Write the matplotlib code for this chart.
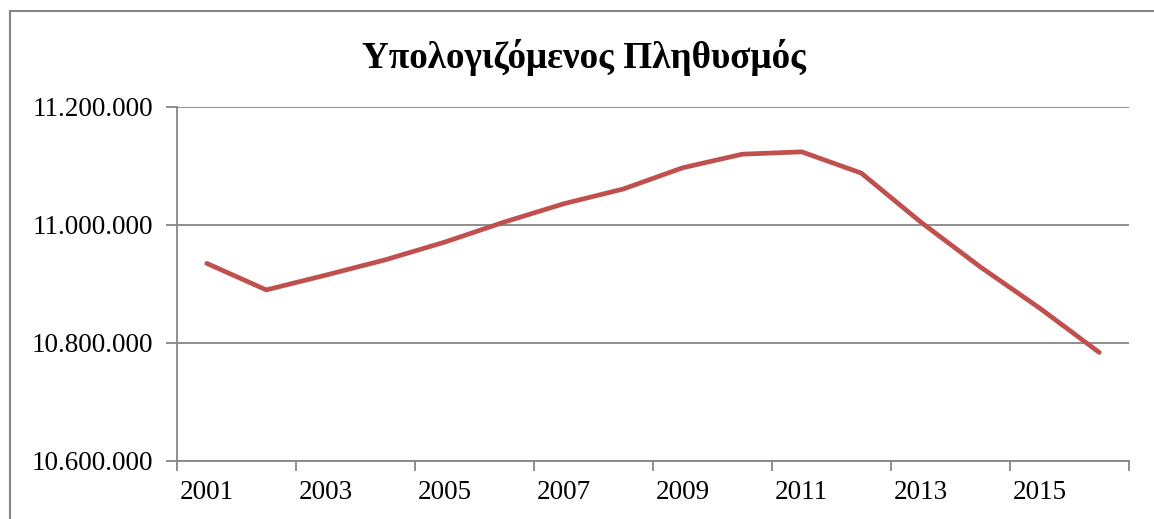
import matplotlib
matplotlib.use("Agg")
import matplotlib.pyplot as plt
from matplotlib.lines import Line2D
from matplotlib.ticker import FuncFormatter, FixedLocator, NullFormatter

years = list(range(2001, 2017))
population = [10935000, 10890000, 10915000, 10941000, 10971000, 11005000,
              11036000, 11061000, 11097000, 11120000, 11124000, 11088000,
              11005000, 10929000, 10859000, 10784000]
title = "Υπολογιζόμενος Πληθυσμός"
y_ticks = [10600000, 10800000, 11000000, 11200000]

W, H = 1154, 519
fig = plt.figure(figsize=(W / 100, H / 100), dpi=100)
fig.patch.set_facecolor("white")
ax = fig.add_axes([177 / W, 1 - 461 / H, (1129 - 177) / W, (461 - 107) / H])

plt.rcParams['font.family'] = ['Liberation Serif', 'DejaVu Serif']
grey = "#868686"

x = list(range(len(years)))
ax.plot(x, population, color="#C0504D", lw=3.4, solid_capstyle="round",
        solid_joinstyle="round", zorder=3)

ax.set_xlim(-0.5, len(years) - 0.5)
ax.set_ylim(y_ticks[0], y_ticks[-1])
ax.yaxis.set_major_locator(FixedLocator(y_ticks))
ax.yaxis.set_major_formatter(FuncFormatter(lambda v, p: f"{int(v):,}".replace(",", ".")))
ax.grid(axis="y", color=grey, lw=1.3, zorder=1)

# tick marks between category pairs, labels at every other category
ax.xaxis.set_major_locator(FixedLocator([i - 0.5 for i in range(0, len(years) + 1, 2)]))
ax.xaxis.set_major_formatter(NullFormatter())
ax.xaxis.set_minor_locator(FixedLocator(list(range(0, len(years), 2))))
ax.set_xticklabels([str(years[i]) for i in range(0, len(years), 2)], minor=True)
ax.tick_params(axis="x", which="minor", length=0, pad=14, labelsize=19.5,
               labelfontfamily="Liberation Serif")
ax.tick_params(axis="x", which="major", length=7, width=1.3, color=grey)
ax.tick_params(axis="y", which="major", length=8, width=1.3, color=grey, pad=9,
               labelsize=19.5, labelfontfamily="Liberation Serif")

for s in ["top", "right"]:
    ax.spines[s].set_visible(False)
for s in ["left", "bottom"]:
    ax.spines[s].set_color(grey)
    ax.spines[s].set_linewidth(1.3)

fig.text(584 / W, 1 - 58 / H, title, ha="center", va="center", fontsize=26.8,
         fontweight="bold", family=["Liberation Serif", "DejaVu Serif"])

# chart area frame
fig.add_artist(Line2D([10 / W, 10 / W], [0, 1 - 11 / H], color=grey, lw=1.5,
                      transform=fig.transFigure))
fig.add_artist(Line2D([10 / W, 1], [1 - 11 / H, 1 - 11 / H], color=grey, lw=1.5,
                      transform=fig.transFigure))

fig.savefig("out.png", dpi=100)
